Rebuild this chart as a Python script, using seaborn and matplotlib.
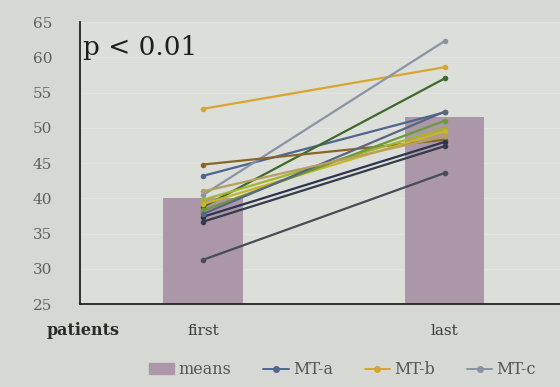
import pandas as pd
import matplotlib.pyplot as plt
import seaborn as sns
from matplotlib.patches import Patch
from matplotlib.lines import Line2D

# values
visits = ['first', 'last']
means = [40.0, 51.6]
patients = ['MT-a', 'MT-b', 'MT-c', 'MT-d', 'MT-e', 'MT-f', 'MT-g',
            'MT-h', 'MT-i', 'MT-j', 'MT-k', 'MT-l', 'MT-m']
first_vals = [43.2, 52.7, 40.5, 38.8, 44.8, 39.8, 39.2, 37.4, 36.7, 31.3, 38.3, 37.8, 41.0]
last_vals = [52.2, 58.6, 62.3, 57.0, 48.3, 49.9, 49.5, 48.0, 47.4, 43.6, 51.0, 52.3, 48.8]
line_colors = ['#4f6590', '#d9a530', '#8a93a6', '#3d6a2c', '#8a6528', '#a4b52e', '#c9b526',
               '#2c3450', '#343b4a', '#474c58', '#6b9a3a', '#5a6680', '#b5a060']

bg = '#d6d9d3'
bar_color = '#ab97a7'

df = pd.DataFrame({
    'patient': patients * 2,
    'visit': [0] * len(patients) + [1] * len(patients),
    'score': first_vals + last_vals,
})
mean_df = pd.DataFrame({'visit': visits, 'score': means})

sns.set_style('white')
plt.rcParams['font.family'] = ['DejaVu Serif']

fig = plt.figure(figsize=(5.6, 3.87), dpi=100, facecolor=bg)
ax = fig.add_axes([0.143, 0.214, 0.86, 0.729])
ax.set_facecolor('#dcdfd9')

sns.barplot(data=mean_df, x='visit', y='score', color=bar_color, width=0.33,
            saturation=1, edgecolor='none', linewidth=0, ax=ax, zorder=1)
for k, p in enumerate(patients):
    sub = df[df['patient'] == p]
    sns.lineplot(data=sub, x='visit', y='score', color=line_colors[k], lw=1.6,
                 marker='o', markersize=4, markeredgewidth=0, ax=ax, zorder=3)

ax.set_xlim(-0.51, 1.485)
ax.set_ylim(25, 65)
ax.set_yticks(range(25, 66, 5))
ax.yaxis.grid(True, color='#e2e4df', lw=0.8)
ax.set_axisbelow(True)
ax.set_xticks([0, 1])
ax.set_xticklabels(visits, fontsize=11, color='#3a3a3a')
ax.tick_params(axis='x', length=0, pad=14)
ax.tick_params(axis='y', length=0, pad=20, labelsize=11, labelcolor='#606060')
ax.set_xlabel('')
ax.set_ylabel('')
for s in ['top', 'right']:
    ax.spines[s].set_visible(False)
for s in ['left', 'bottom']:
    ax.spines[s].set_color('#222222')
    ax.spines[s].set_linewidth(1.3)

ax.text(0.006, 0.955, 'p < 0.01', transform=ax.transAxes, fontsize=19,
        color='#1e1e1e', va='top', ha='left')
fig.text(0.148, 0.147, 'patients', fontsize=11.5, fontweight='bold',
         color='#2a2a2a', ha='center', va='center')

handles = [Patch(color=bar_color, label='means')]
for k in range(3):
    handles.append(Line2D([0], [0], color=line_colors[k], lw=1.4, marker='o',
                          markersize=4, label=patients[k]))
fig.legend(handles=handles, loc='center left', bbox_to_anchor=(0.24, 0.044),
           ncol=4, frameon=False, fontsize=11.5, handlelength=1.6,
           handletextpad=0.25, columnspacing=2.0, labelcolor='#555555')

fig.savefig('out.png', dpi=100, facecolor=bg)
